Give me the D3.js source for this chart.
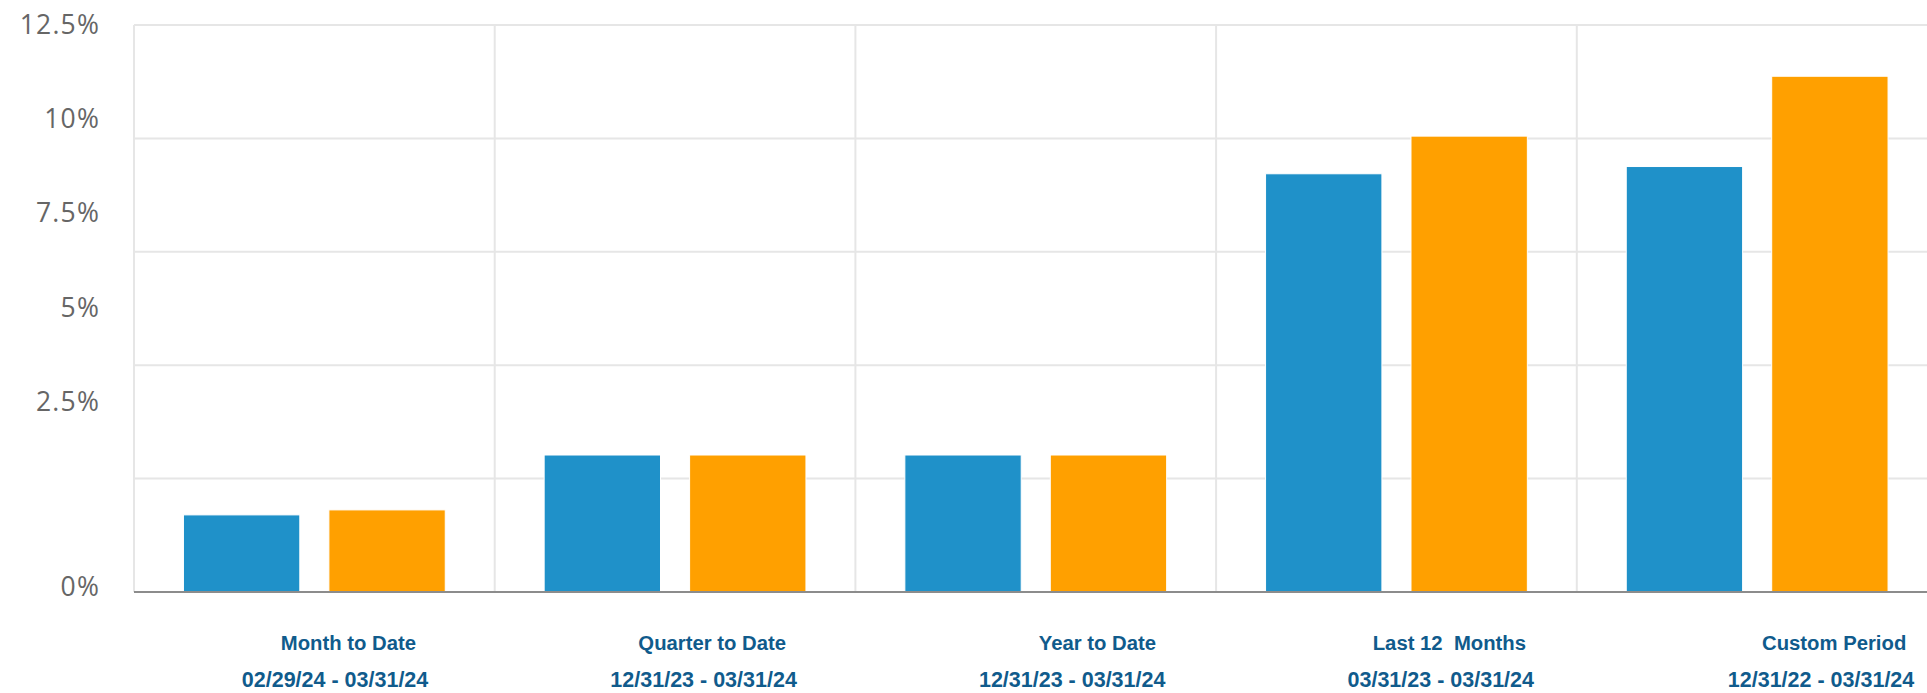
<!DOCTYPE html>
<html>
<head>
<meta charset="utf-8">
<script src="https://cdn.jsdelivr.net/npm/d3@7/dist/d3.min.js"></script>
<style>
  html, body { margin: 0; padding: 0; background: #fff; }
  svg { display: block; }
</style>
</head>
<body>
<svg id="chart" width="1927" height="693"></svg>
<script>
// ---- data ----
const categories = ["Month to Date", "Quarter to Date", "Year to Date", "Last 12  Months", "Custom Period"];
const periods = ["02/29/24 - 03/31/24", "12/31/23 - 03/31/24", "12/31/23 - 03/31/24", "03/31/23 - 03/31/24", "12/31/22 - 03/31/24"];
const seriesNames = ["Series A", "Series B"];
const seriesA = [1.70, 3.02, 3.02, 9.22, 9.38];
const seriesB = [1.81, 3.02, 3.02, 10.05, 11.37];
const yTicks = [0, 2.5, 5, 7.5, 10, 12.5];
const yTickLabels = ["0%", "2.5%", "5%", "7.5%", "10%", "12.5%"];
const colors = ["#1f91c9", "#ffa000"];

// ---- layout ----
const plotLeft = 134, plotRight = 1937.5, plotTop = 25, plotBottom = 592;

const svg = d3.select("#chart");

const x = d3.scaleBand().domain(categories).range([plotLeft, plotRight]).padding(0);
const xs = d3.scaleBand().domain(seriesNames).range([0, x.bandwidth()])
  .paddingInner(0.2).paddingOuter(0.34);
const y = d3.scaleLinear().domain([0, 12.5]).range([plotBottom, plotTop]);

// label positioning scales (as laid out in the reference)
const labelY = d3.scaleLinear().domain([12.5, 2.5]).range([23.5, 401]);
const dateEndX = d3.scaleLinear().domain([0, 3, 4]).range([428.3, 1534, 1914.3]);
const titleEndX = d3.scaleLinear().domain([0, 3, 4]).range([416, 1526, 1906.3]);

// horizontal gridlines
svg.append("g").selectAll("line").data(yTicks.filter(t => t > 0)).join("line")
  .attr("x1", plotLeft).attr("x2", plotRight)
  .attr("y1", d => y(d)).attr("y2", d => y(d))
  .attr("stroke", "#e6e6e6").attr("stroke-width", 2);

// vertical gridlines at category boundaries
svg.append("g").selectAll("line").data(categories).join("line")
  .attr("x1", d => x(d)).attr("x2", d => x(d))
  .attr("y1", plotTop).attr("y2", plotBottom)
  .attr("stroke", "#e6e6e6").attr("stroke-width", 2);

// bars
const rows = categories.map((c, i) => ({ c, vals: [seriesA[i], seriesB[i]] }));
const groups = svg.append("g").selectAll("g").data(rows).join("g")
  .attr("transform", d => `translate(${x(d.c)},0)`);
groups.selectAll("rect").data(d => d.vals.map((v, k) => ({ v, k }))).join("rect")
  .attr("x", d => xs(seriesNames[d.k]))
  .attr("width", xs.bandwidth())
  .attr("y", d => y(d.v))
  .attr("height", d => y(0) - y(d.v))
  .attr("fill", d => colors[d.k])
  .attr("stroke", "#ffffff").attr("stroke-width", 1);

// baseline
svg.append("line")
  .attr("x1", plotLeft).attr("x2", plotRight)
  .attr("y1", y(0)).attr("y2", y(0))
  .attr("stroke", "#8c8c8c").attr("stroke-width", 2);

// y labels
svg.append("g").selectAll("text").data(yTicks).join("text")
  .attr("x", 100)
  .attr("y", d => d > 0 ? labelY(d) : y(0) - 6)
  .attr("text-anchor", "end")
  .attr("dominant-baseline", "central")
  .attr("font-family", "'Open Sans', sans-serif")
  .attr("font-size", 26.5)
  .attr("letter-spacing", 1.2)
  .attr("fill", "#666666")
  .text((d, i) => yTickLabels[i]);

// x labels
const xl = svg.append("g");
xl.selectAll("text.title").data(categories).join("text")
  .attr("class", "title")
  .attr("x", (d, i) => titleEndX(i))
  .attr("y", 650)
  .attr("text-anchor", "end")
  .attr("font-family", "'Liberation Sans', Arial, sans-serif")
  .attr("font-weight", "bold")
  .attr("font-size", 20.3)
  .attr("fill", "#105b8c")
  .style("white-space", "pre")
  .text(d => d);
xl.selectAll("text.period").data(categories).join("text")
  .attr("class", "period")
  .attr("x", (d, i) => dateEndX(i))
  .attr("y", 687)
  .attr("text-anchor", "end")
  .attr("font-family", "'Liberation Sans', Arial, sans-serif")
  .attr("font-weight", "bold")
  .attr("font-size", 21.5)
  .attr("fill", "#105b8c")
  .text((d, i) => periods[i]);
</script>
</body>
</html>
